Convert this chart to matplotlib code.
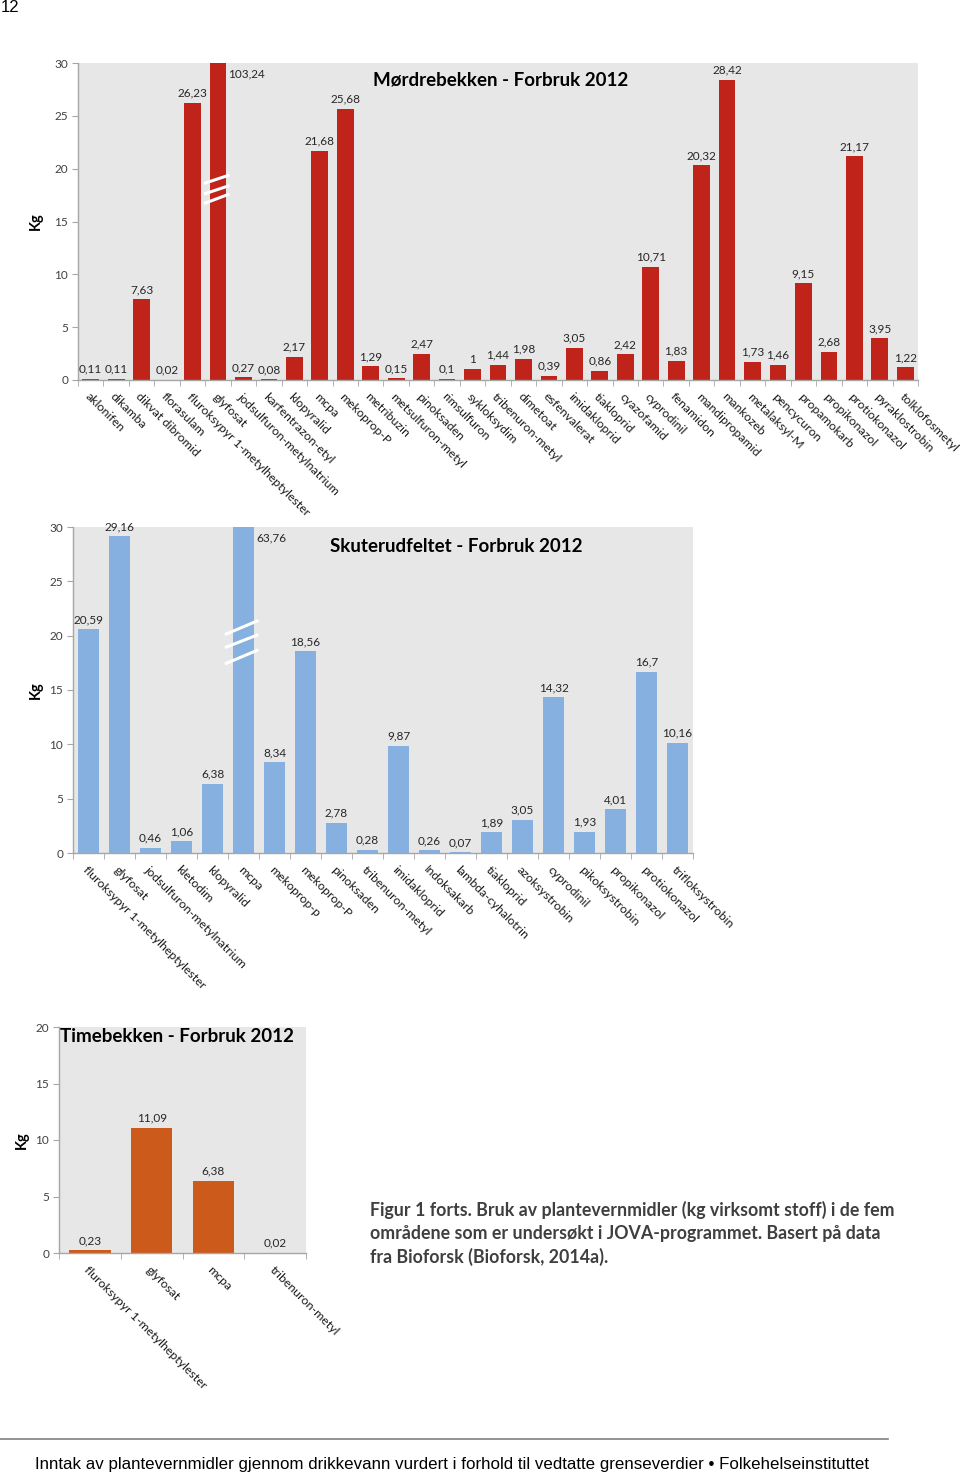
import matplotlib
matplotlib.use("Agg")
import matplotlib.pyplot as plt
import numpy as np

# ---------------- data ----------------
mord_labels = ["aklonifen", "dikamba", "dikvat dibromid", "florasulam",
               "fluroksypyr 1-metylheptylester", "glyfosat", "jodsulfuron-metylnatrium",
               "karfentrazon-etyl", "klopyralid", "mcpa", "mekoprop-P", "metribuzin",
               "metsulfuron-metyl", "pinoksaden", "rimsulfuron", "sykloksydim",
               "tribenuron-metyl", "dimetoat", "esfenvalerat", "imidakloprid", "tiakloprid",
               "cyazofamid", "cyprodinil", "fenamidon", "mandipropamid", "mankozeb",
               "metalaksyl-M", "pencycuron", "propamokarb", "propikonazol", "protiokonazol",
               "pyraklostrobin", "tolklofosmetyl"]
mord_values = [0.11, 0.11, 7.63, 0.02, 26.23, 103.24, 0.27, 0.08, 2.17, 21.68, 25.68, 1.29,
               0.15, 2.47, 0.1, 1, 1.44, 1.98, 0.39, 3.05, 0.86, 2.42, 10.71, 1.83, 20.32,
               28.42, 1.73, 1.46, 9.15, 2.68, 21.17, 3.95, 1.22]

skut_labels = ["fluroksypyr 1-metylheptylester", "glyfosat", "jodsulfuron-metylnatrium",
               "kletodim", "klopyralid", "mcpa", "mekoprop-p", "mekoprop-P", "pinoksaden",
               "tribenuron-metyl", "imidakloprid", "Indoksakarb", "lambda-cyhalotrin",
               "tiakloprid", "azoksystrobin", "cyprodinil", "pikoksystrobin", "propikonazol",
               "protiokonazol", "trifloksystrobin"]
skut_values = [20.59, 29.16, 0.46, 1.06, 6.38, 63.76, 8.34, 18.56, 2.78, 0.28, 9.87, 0.26,
               0.07, 1.89, 3.05, 14.32, 1.93, 4.01, 16.7, 10.16]

time_labels = ["fluroksypyr 1-metylheptylester", "glyfosat", "mcpa", "tribenuron-metyl"]
time_values = [0.23, 11.09, 6.38, 0.02]

titles = ["Mørdrebekken - Forbruk 2012", "Skuterudfeltet - Forbruk 2012",
          "Timebekken - Forbruk 2012"]

# ---------------- layout ----------------
W, H = 960, 1476
fig = plt.figure(figsize=(W / 100, H / 100), dpi=100)
plt.rcParams['font.family'] = ['Lato', 'DejaVu Sans']

BG = "#e7e7e7"
AXC = "#a6a6a6"
TXT = "#404040"


def px_axes(l, t, r, b):
    return fig.add_axes([l / W, (H - b) / H, (r - l) / W, (b - t) / H])


def fmt(v):
    return f"{v:g}".replace(".", ",")


def panel(ax, labels, values, color, ymax, yticks, barw, title, title_xy, ylab_x,
          breaks=None):
    n = len(values)
    x = np.arange(n)
    ax.set_facecolor(BG)
    ax.bar(x, values, width=barw, color=color, zorder=2)
    ax.set_xlim(-0.5, n - 0.5)
    ax.set_ylim(0, ymax)
    for s in ["top", "right"]:
        ax.spines[s].set_visible(False)
    for s in ["left", "bottom"]:
        ax.spines[s].set_color(AXC)
        ax.spines[s].set_linewidth(1.0)
    ax.set_yticks(yticks)
    ax.tick_params(axis="y", length=4, color=AXC, labelsize=8.5, labelcolor=TXT, pad=3)
    ax.set_xticks(x)
    ax.set_xticklabels(labels, rotation=-45, ha="left", va="top",
                       rotation_mode="anchor", fontsize=8.9, color="#1a1a1a")
    ax.tick_params(axis="x", length=0, pad=8)
    ax.set_xticks(np.arange(-0.5, n, 1.0), minor=True)
    ax.tick_params(axis="x", which="minor", length=4, color=AXC)
    for xi, v in zip(x, values):
        if v > ymax:
            ax.text(xi + barw / 2 + 0.08, ymax * 0.965, fmt(v), ha="left", va="center",
                    fontsize=8.5, color="#262626")
        else:
            ax.annotate(fmt(v), (xi, v), xytext=(0, 3), textcoords="offset points",
                        ha="center", va="bottom", fontsize=8.5, color="#262626")
    if breaks is not None:
        bi, x0, x1, ys = breaks
        for y0, y1 in ys:
            ax.plot([bi + x0, bi + x1], [y0, y1], color="white", lw=2.2, zorder=3,
                    solid_capstyle="butt", clip_on=False)
    fig.text(title_xy[0] / W, 1 - title_xy[1] / H, title, ha="center", va="center",
             fontsize=13.5, fontweight="bold", color="black")
    ax_box = ax.get_position()
    fig.text(ylab_x / W, ax_box.y0 + ax_box.height / 2, "Kg", rotation=90,
             ha="center", va="center", fontsize=10.5, fontweight="bold", color="black")


ax1 = px_axes(78, 63, 918, 380)
panel(ax1, mord_labels, mord_values, "#c0231a", 30, [0, 5, 10, 15, 20, 25, 30], 0.66,
      titles[0], (501, 80), 36,
      breaks=(5, -0.55, 0.45, [(18.6, 19.4), (17.6, 18.4), (16.7, 17.6)]))

ax2 = px_axes(73, 527, 693, 853)
panel(ax2, skut_labels, skut_values, "#86b0e0", 30, [0, 5, 10, 15, 20, 25, 30], 0.7,
      titles[1], (456, 547), 36,
      breaks=(5, -0.6, 0.48, [(20.1, 21.4), (18.9, 20.1), (17.4, 18.7)]))

ax3 = px_axes(59, 1027, 306, 1253)
panel(ax3, time_labels, time_values, "#cc5a1a", 20, [0, 5, 10, 15, 20], 0.67,
      titles[2], (177, 1036), 22)

# caption
caption = ("Figur 1 forts. Bruk av plantevernmidler (kg virksomt stoff) i de fem\n"
           "områdene som er undersøkt i JOVA-programmet. Basert på data\n"
           "fra Bioforsk (Bioforsk, 2014a).")
fig.text(370 / W, 1 - 1201 / H, caption, ha="left", va="top", fontsize=12.8,
         fontweight="bold", color="#3f3f3f", linespacing=1.4)

# page number, footer rule and footer text
fig.text(1 / W, 1 - 8 / H, "12", ha="left", va="center", fontsize=12,
         family="Liberation Sans", color="black")
fig.add_artist(plt.Line2D([0, 888 / W], [1 - 1439 / H, 1 - 1439 / H],
                          color="#808080", lw=1.2))
fig.text(452 / W, 1 - 1465 / H,
         "Inntak av plantevernmidler gjennom drikkevann vurdert i forhold til vedtatte "
         "grenseverdier \u2022 Folkehelseinstituttet",
         ha="center", va="center", fontsize=12.2, family="Liberation Sans", color="black")

fig.savefig("out.png", dpi=100)
